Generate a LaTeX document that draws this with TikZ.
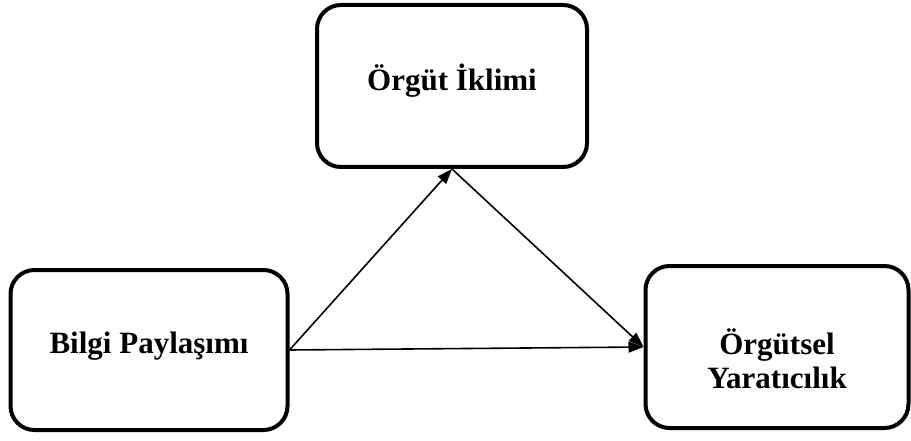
\documentclass[tikz,border=0pt]{standalone}
\usepackage{fontspec}
\setmainfont{Liberation Serif}
\usepackage{tikz}
\usetikzlibrary{positioning,arrows.meta}

\begin{document}
\begin{tikzpicture}[
  x=1pt,y=-1pt,
  every node/.style={font=\fontsize{31}{34}\selectfont\bfseries,align=center},
  varbox/.style={rectangle,draw=black,line width=4pt,rounded corners=24pt,
                 fill=white,inner sep=0pt},
  arr/.style={-{Triangle[length=15pt,width=11pt]},line width=1.6pt,black},
]
\useasboundingbox (0,0) rectangle (911,441);

\node[varbox,minimum width=270pt,minimum height=162pt,
      label={[name=climatetext,yshift=5pt]center:Örgüt İklimi}] (climate) at (452,86) {};
\node[varbox,minimum width=277pt,minimum height=160pt,
      label={[name=sharetext,yshift=4pt]center:Bilgi Paylaşımı}] (share) at (149,350) {};
\node[varbox,minimum width=263pt,minimum height=162pt,
      label={[name=createtext,yshift=-12pt]center:Örgütsel\\Yaratıcılık}] (create) at (777,347) {};

\draw[arr] (share.east) -- (climate.south);
\draw[arr] (climate.south) -- (create.west);
\draw[arr] (share.east) -- (create.west);
\end{tikzpicture}
\end{document}
